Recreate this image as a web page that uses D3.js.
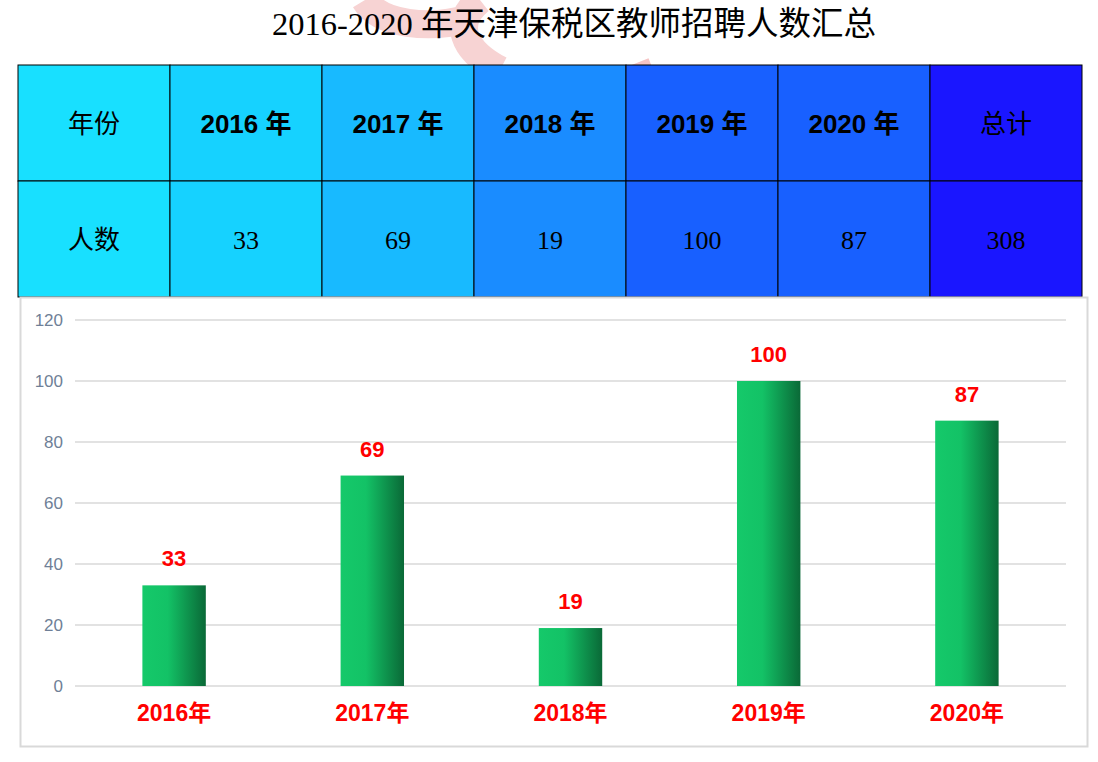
<!DOCTYPE html>
<html>
<head>
<meta charset="utf-8">
<script src="https://cdn.jsdelivr.net/npm/d3@7"></script>
<style>
  body { margin: 0; background: #fff; }
  svg { display: block; }
</style>
</head>
<body>
<svg id="chart" width="1098" height="762"></svg>
<script>
'use strict'

// ------ data ------
const title = '2016-2020 年天津保税区教师招聘人数汇总'
const years = ['2016', '2017', '2018', '2019', '2020']
const counts = [33, 69, 19, 100, 87]
const total = 308
const yTicks = [0, 20, 40, 60, 80, 100, 120]

// table column fills, left to right
const colFills = ['#18E0FF', '#16D2FF', '#18BAFF', '#1A8CFF', '#1860FF', '#1860FF', '#1A16FF']

const svg = d3.select('#chart')
const serif = '"Liberation Serif", "Noto Sans CJK SC", serif'
const sans = '"Liberation Sans", "Noto Sans CJK SC", sans-serif'

// ------ faint watermark behind the title ------
svg.append('path')
  .attr('d', 'M365,0 C380,25 430,30 470,18 M480,0 C452,22 462,50 500,70')
  .attr('fill', 'none')
  .attr('stroke', '#f7d3d3')
  .attr('stroke-width', 28)
svg.append('path')
  .attr('d', 'M610,78 L650,62')
  .attr('fill', 'none')
  .attr('stroke', '#f6c4c4')
  .attr('stroke-width', 8)

// ------ title ------
svg.append('text')
  .attr('x', 574)
  .attr('y', 35)
  .attr('text-anchor', 'middle')
  .attr('font-family', serif)
  .attr('font-size', 32.5)
  .attr('fill', '#000')
  .text(title)

// ------ table ------
const headRow = [{ t: '年份', bold: false, f: serif }]
  .concat(years.map(y => ({ t: y + ' 年', bold: true, f: sans })))
  .concat([{ t: '总计', bold: false, f: serif }])
const valueRow = [{ t: '人数', bold: false, f: serif }]
  .concat(counts.map(c => ({ t: String(c), bold: false, f: serif })))
  .concat([{ t: String(total), bold: false, f: serif }])
const rows = [headRow, valueRow]

const colX = d3.scaleBand().domain(d3.range(headRow.length)).range([18, 1082])
const rowY = d3.scaleBand().domain(d3.range(rows.length)).range([65, 297])

const table = svg.append('g')
rows.forEach(function (row, ri) {
  const cells = table.selectAll('g.r' + ri)
    .data(row)
    .join('g')
    .attr('class', 'r' + ri)
    .attr('transform', (d, i) => `translate(${colX(i)},${rowY(ri)})`)
  cells.append('rect')
    .attr('width', colX.bandwidth())
    .attr('height', rowY.bandwidth())
    .attr('fill', (d, i) => colFills[i])
    .attr('stroke', '#000')
    .attr('stroke-width', 1)
  cells.append('text')
    .attr('x', colX.bandwidth() / 2)
    .attr('y', rowY.bandwidth() / 2 + 10)
    .attr('text-anchor', 'middle')
    .attr('font-family', d => d.f)
    .attr('font-weight', d => d.bold ? 'bold' : 'normal')
    .attr('font-size', 26)
    .attr('fill', '#000')
    .text(d => d.t)
})

// ------ bar chart panel ------
svg.append('rect')
  .attr('x', 20.5)
  .attr('y', 297.5)
  .attr('width', 1067)
  .attr('height', 449)
  .attr('fill', '#fff')
  .attr('stroke', '#d9d9d9')
  .attr('stroke-width', 2)

const x = d3.scaleBand().domain(years).range([75, 1066]).paddingInner(0.68).paddingOuter(0.34)
const y = d3.scaleLinear().domain([0, 120]).range([686, 320])

const grad = svg.append('defs').append('linearGradient')
  .attr('id', 'barGrad')
  .attr('x1', '0%').attr('x2', '100%').attr('y1', '0%').attr('y2', '0%')
grad.append('stop').attr('offset', '0%').attr('stop-color', '#15C96A')
grad.append('stop').attr('offset', '40%').attr('stop-color', '#13C266')
grad.append('stop').attr('offset', '100%').attr('stop-color', '#0A6937')

// gridlines
svg.append('g')
  .selectAll('line')
  .data(yTicks)
  .join('line')
  .attr('x1', 75)
  .attr('x2', 1066)
  .attr('y1', d => y(d))
  .attr('y2', d => y(d))
  .attr('stroke', '#d9d9d9')
  .attr('stroke-width', 1.5)

// y axis labels
const yAxis = svg.append('g')
  .attr('transform', 'translate(63,0)')
  .call(d3.axisLeft(y).tickValues(yTicks).tickSize(0).tickPadding(0))
yAxis.select('.domain').remove()
yAxis.selectAll('text')
  .attr('font-family', sans)
  .attr('font-size', 17)
  .attr('fill', '#6f7f97')

// bars
svg.append('g')
  .selectAll('rect')
  .data(counts)
  .join('rect')
  .attr('x', (d, i) => x(years[i]))
  .attr('y', d => y(d))
  .attr('width', x.bandwidth())
  .attr('height', d => y(0) - y(d))
  .attr('fill', 'url(#barGrad)')

// value labels
svg.append('g')
  .selectAll('text')
  .data(counts)
  .join('text')
  .attr('x', (d, i) => x(years[i]) + x.bandwidth() / 2)
  .attr('y', d => y(d) - 19)
  .attr('text-anchor', 'middle')
  .attr('font-family', sans)
  .attr('font-weight', 'bold')
  .attr('font-size', 22)
  .attr('fill', '#ff0000')
  .text(d => d)

// x axis labels
const xAxis = svg.append('g')
  .attr('transform', 'translate(0,686)')
  .call(d3.axisBottom(x).tickSize(0).tickPadding(19).tickFormat(d => d + '年'))
xAxis.select('.domain').remove()
xAxis.selectAll('text')
  .attr('font-family', sans)
  .attr('font-weight', 'bold')
  .attr('font-size', 23)
  .attr('fill', '#ff0000')
</script>
</body>
</html>
